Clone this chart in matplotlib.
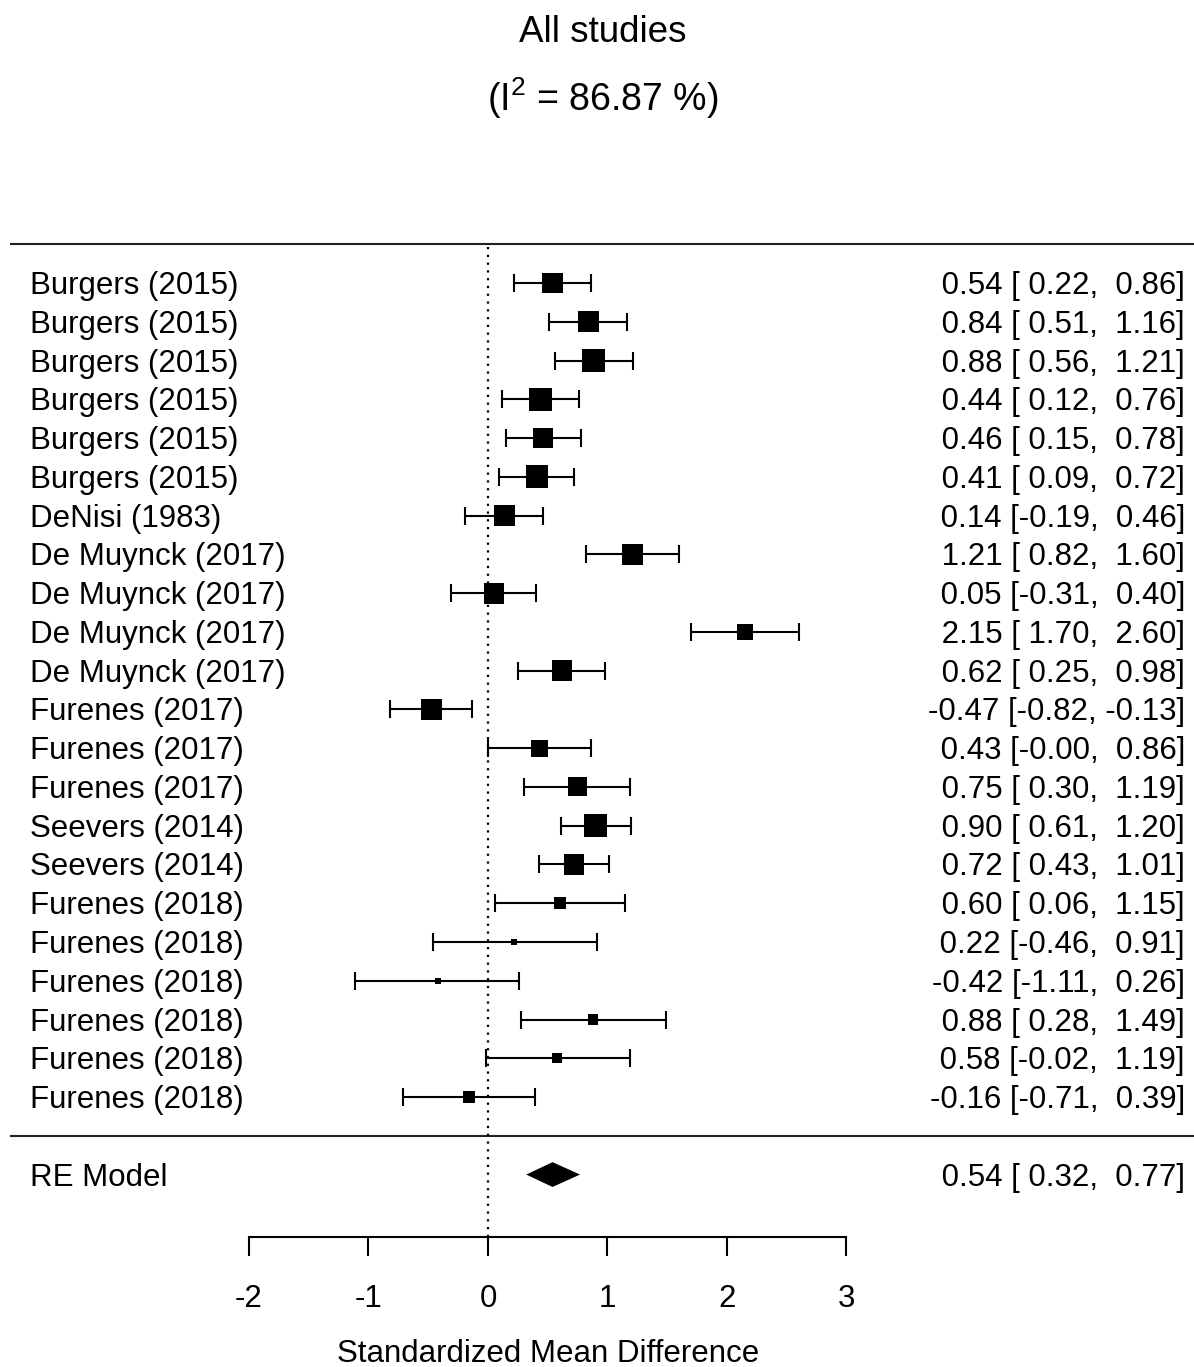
import matplotlib.pyplot as plt

plt.rcParams["font.family"] = ["Liberation Sans", "DejaVu Sans"]
plt.rcParams["mathtext.fontset"] = "custom"
plt.rcParams["mathtext.rm"] = "Liberation Sans"
plt.rcParams["mathtext.default"] = "regular"

# study data (top to bottom)
studies = ["Burgers (2015)"] * 6 + ["DeNisi (1983)"] + ["De Muynck (2017)"] * 4 \
    + ["Furenes (2017)"] * 3 + ["Seevers (2014)"] * 2 + ["Furenes (2018)"] * 6
estimates = [0.54, 0.84, 0.88, 0.44, 0.46, 0.41, 0.14, 1.21, 0.05, 2.15, 0.62,
             -0.47, 0.43, 0.75, 0.90, 0.72, 0.60, 0.22, -0.42, 0.88, 0.58, -0.16]
ci_lower = [0.22, 0.51, 0.56, 0.12, 0.15, 0.09, -0.19, 0.82, -0.31, 1.70, 0.25,
            -0.82, -0.00, 0.30, 0.61, 0.43, 0.06, -0.46, -1.11, 0.28, -0.02, -0.71]
ci_upper = [0.86, 1.16, 1.21, 0.76, 0.78, 0.72, 0.46, 1.60, 0.40, 2.60, 0.98,
            -0.13, 0.86, 1.19, 1.20, 1.01, 1.15, 0.91, 0.26, 1.49, 1.19, 0.39]
weights = [5.1, 5.1, 5.5, 5.5, 5.1, 5.5, 5.1, 5.1, 5.1, 4.4, 5.1,
           5.1, 4.4, 4.8, 5.5, 5.1, 3.6, 2.5, 2.5, 3.2, 3.2, 3.6]

re_label = "RE Model"
re_est, re_lo, re_hi = 0.54, 0.32, 0.77
i2 = 86.87
x_ticks = [-2, -1, 0, 1, 2, 3]

# layout: 1 unit of x = 119.5 px, zero at 488 px; 1 row = 38.76 px
PX_X, X0 = 119.5, 488
PX_Y, Y0 = 38.76, 1135.8
W, H = 1194, 1367

k = len(studies)
rows = list(range(k, 0, -1))

fig = plt.figure(figsize=(W / 100, H / 100), dpi=100)
ax = fig.add_axes([0, 0, 1, 1])
ax.set_xlim(-X0 / PX_X, (W - X0) / PX_X)
ax.set_ylim((Y0 - H) / PX_Y, Y0 / PX_Y)

x_left = (30 - X0) / PX_X
x_right = (1185 - X0) / PX_X
x_line = (10 - X0) / PX_X
y_axis = (Y0 - 1237) / PX_Y
dy = 3 / PX_Y  # nudge text down a little to sit on the row centre
fs = 22.5
lw = 1.5

# separator lines and reference line
ax.hlines([k + 1, 0], x_line, ax.get_xlim()[1], color="#222222", lw=lw)
ax.plot([0, 0], [y_axis, k + 1], color="black", lw=1.6, ls=(0, (1, 2.5)))

# confidence intervals and boxes
xerr = [[e - l for e, l in zip(estimates, ci_lower)],
        [u - e for e, u in zip(estimates, ci_upper)]]
ax.errorbar(estimates, rows, xerr=xerr, fmt="none", ecolor="black",
            elinewidth=lw, capsize=6.5, capthick=lw, zorder=2)
wmin, wmax = min(weights), max(weights)
sides = [(6 + 16 * (w - wmin) / (wmax - wmin)) * 0.75 for w in weights]
ax.scatter(estimates, rows, s=[s ** 2 for s in sides], marker="s",
           color="black", linewidths=0, zorder=3)

# summary diamond
h = 0.32
ax.fill([re_lo, re_est, re_hi, re_est], [-1, -1 + h, -1, -1 - h],
        color="black", lw=0, zorder=3)

# text columns
for r, name, e, l, u in zip(rows, studies, estimates, ci_lower, ci_upper):
    ax.text(x_left, r - dy, name, ha="left", va="center", fontsize=fs)
    ax.text(x_right, r - dy, f"{e:5.2f} [{l:5.2f}, {u:5.2f}]", ha="right",
            va="center", fontsize=fs)
ax.text(x_left, -1 - dy, re_label, ha="left", va="center", fontsize=fs)
ax.text(x_right, -1 - dy, f"{re_est:5.2f} [{re_lo:5.2f}, {re_hi:5.2f}]",
        ha="right", va="center", fontsize=fs)

# title
x_title = (603 - X0) / PX_X
ax.text(x_title, (Y0 - 33) / PX_Y, "All studies", ha="center", va="center",
        fontsize=26.5)
ax.text(x_title, (Y0 - 98) / PX_Y, f"(I$^{{2}}$ = {i2:.2f} %)", ha="center",
        va="center", fontsize=27)

# x axis
for side in ["top", "left", "right"]:
    ax.spines[side].set_visible(False)
ax.spines["bottom"].set_position(("data", y_axis))
ax.spines["bottom"].set_bounds(x_ticks[0], x_ticks[-1])
ax.spines["bottom"].set_linewidth(lw)
ax.set_xticks(x_ticks)
ax.set_xticklabels([str(t) for t in x_ticks])
ax.set_yticks([])
ax.tick_params(axis="x", direction="out", length=13.5, width=lw,
               labelsize=fs, pad=20)
ax.text((x_ticks[0] + x_ticks[-1]) / 2, (Y0 - 1354) / PX_Y,
        "Standardized Mean Difference", ha="center", va="center", fontsize=fs)

fig.savefig("out.png", dpi=100)
